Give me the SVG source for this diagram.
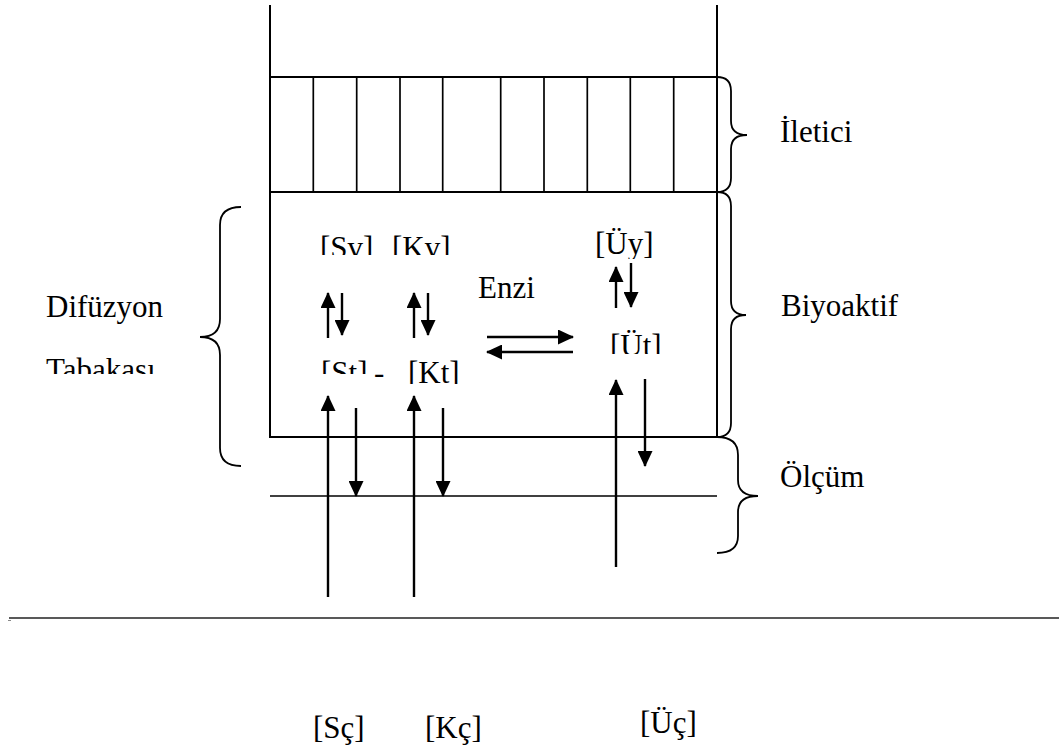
<svg xmlns="http://www.w3.org/2000/svg" width="1059" height="752" viewBox="0 0 1059 752">
<style>
.ln{stroke:#000;stroke-width:2;fill:none}
.thin{stroke:#000;stroke-width:1.7;fill:none}
.br{stroke:#000;stroke-width:1.8;fill:none}
.ar{stroke:#000;stroke-width:2.4;fill:none;marker-end:url(#ah)}
.t{font-family:"Liberation Serif","Times New Roman","DejaVu Serif",serif;font-size:31px;fill:#000}
</style>
<defs>
<marker id="ah" viewBox="0 0 16 15" refX="15" refY="7.5" markerWidth="16" markerHeight="15" markerUnits="userSpaceOnUse" orient="auto">
<path d="M0,0 L16,7.5 L0,15 z" fill="#000"/>
</marker>
<clipPath id="cSv"><rect x="300" y="220" width="170" height="35"/></clipPath>
<clipPath id="cUy"><rect x="580" y="220" width="90" height="39"/></clipPath>
<clipPath id="cUt"><rect x="600" y="320" width="80" height="34"/></clipPath>
<clipPath id="cSt"><rect x="300" y="350" width="70" height="24"/></clipPath>
<clipPath id="cDash"><rect x="370" y="350" width="20" height="27.5"/></clipPath>
<clipPath id="cKt"><rect x="400" y="350" width="70" height="34"/></clipPath>
<clipPath id="cTab"><rect x="30" y="340" width="150" height="34"/></clipPath>
</defs>

<g id="sensor-frame">
<line class="ln" x1="270" y1="5" x2="270" y2="438"/>
<line class="ln" x1="717" y1="5" x2="717" y2="438"/>
<line class="ln" x1="270" y1="77" x2="717" y2="77"/>
<line class="ln" x1="270" y1="192" x2="717" y2="192"/>
<line class="ln" x1="270" y1="437" x2="717" y2="437"/>
</g>
<g id="iletici-layer">
<line class="thin" x1="313.3" y1="77" x2="313.3" y2="192"/>
<line class="thin" x1="356.7" y1="77" x2="356.7" y2="192"/>
<line class="thin" x1="400" y1="77" x2="400" y2="192"/>
<line class="thin" x1="442.7" y1="77" x2="442.7" y2="192"/>
<line class="thin" x1="500.7" y1="77" x2="500.7" y2="192"/>
<line class="thin" x1="544" y1="77" x2="544" y2="192"/>
<line class="thin" x1="587.3" y1="77" x2="587.3" y2="192"/>
<line class="thin" x1="630.3" y1="77" x2="630.3" y2="192"/>
<line class="thin" x1="673.7" y1="77" x2="673.7" y2="192"/>
</g>
<g id="measurement-line">
<line class="thin" x1="270" y1="496" x2="717" y2="496"/>
</g>
<g id="base-line">
<line stroke="#222" stroke-width="1.4" x1="9" y1="618" x2="1059" y2="618"/>
<line stroke="#888" stroke-width="1" x1="8" y1="620.5" x2="11" y2="620.5"/>
</g>

<g id="braces">
<path class="br" d="M717,77 Q731,77 731,91 L731,121 Q731,135 747,135 Q731,135 731,149 L731,178 Q731,192 717,192"/>
<path class="br" d="M717,192 Q731,192 731,206 L731,301 Q731,315 746,315 Q731,315 731,329 L731,423 Q731,437 717,437"/>
<path class="br" d="M717,437 Q738,437 738,455 L738,480 Q738,496 758,496 Q738,496 738,512 L738,536 Q738,553 717,553"/>
<path class="br" d="M241,207 Q220,207 220,225 L220,319 Q220,337 200,337 Q220,337 220,355 L220,448 Q220,466 241,466"/>
</g>

<g id="label-iletici"><text class="t" x="780" y="142">İletici</text></g>
<g id="label-biyoaktif"><text class="t" x="781" y="316">Biyoaktif</text></g>
<g id="label-olcum"><text class="t" x="780" y="487">Ölçüm</text></g>
<g id="label-difuzyon"><text class="t" x="46" y="317">Difüzyon</text></g>
<g id="label-tabakasi"><text class="t" x="46" y="380" clip-path="url(#cTab)">Tabakası</text></g>

<g id="node-Sv"><text class="t" x="320" y="258" clip-path="url(#cSv)">[Sv]</text></g>
<g id="node-Kv"><text class="t" x="392" y="258" clip-path="url(#cSv)">[Kv]</text></g>
<g id="node-Uy"><text class="t" x="595" y="254" clip-path="url(#cUy)">[Üy]</text></g>
<g id="node-Enzi"><text class="t" x="478" y="298">Enzi</text></g>
<g id="node-Ut"><text class="t" x="610" y="356" clip-path="url(#cUt)">[Üt]</text></g>
<g id="node-St"><text class="t" x="321" y="383" clip-path="url(#cSt)">[St]</text><text class="t" x="374" y="383" clip-path="url(#cDash)">-</text></g>
<g id="node-Kt"><text class="t" x="408" y="383" clip-path="url(#cKt)">[Kt]</text></g>
<g id="node-Sc"><text class="t" x="313" y="738">[Sç]</text></g>
<g id="node-Kc"><text class="t" x="425" y="738">[Kç]</text></g>
<g id="node-Uc"><text class="t" x="640" y="733">[Üç]</text></g>

<g id="connectors">
<line class="ar" x1="328" y1="338" x2="328" y2="293"/>
<line class="ar" x1="342" y1="293" x2="342" y2="335"/>
<line class="ar" x1="414" y1="338" x2="414" y2="293"/>
<line class="ar" x1="428" y1="293" x2="428" y2="335"/>
<line class="ar" x1="487" y1="337" x2="573" y2="337"/>
<line class="ar" x1="573" y1="352" x2="487" y2="352"/>
<line class="ar" x1="616" y1="308" x2="616" y2="267"/>
<line class="ar" x1="631" y1="263" x2="631" y2="307"/>
<line class="ar" x1="328" y1="597" x2="328" y2="396"/>
<line class="ar" x1="356" y1="408" x2="356" y2="496"/>
<line class="ar" x1="414" y1="597" x2="414" y2="396"/>
<line class="ar" x1="443" y1="408" x2="443" y2="496"/>
<line class="ar" x1="616" y1="567" x2="616" y2="380"/>
<line class="ar" x1="645" y1="379" x2="645" y2="466"/>
</g>
</svg>
